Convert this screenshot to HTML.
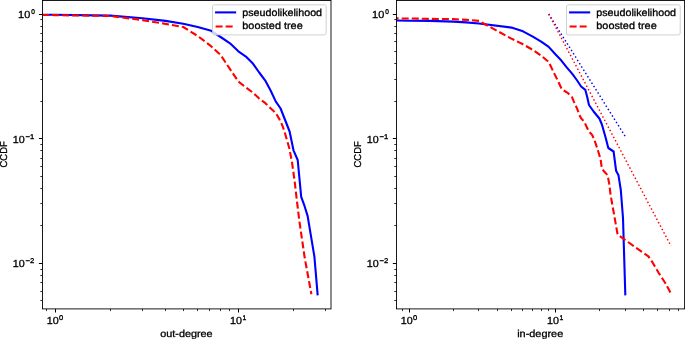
<!DOCTYPE html><html><head><meta charset="utf-8"><style>html,body{margin:0;padding:0;background:#fff;width:685px;height:339px;overflow:hidden}</style></head><body><svg width="685" height="339" viewBox="0 0 685 339" style="display:block;will-change:transform;text-rendering:geometricPrecision">
<rect width="685" height="339" fill="#fff"/>
<defs>
<clipPath id="cL"><rect x="42.5" y="0.45" width="288.50" height="308.45"/></clipPath>
<clipPath id="cR"><rect x="396.45" y="0.45" width="288.15" height="308.45"/></clipPath>
</defs>
<g clip-path="url(#cL)" fill="none" stroke-linejoin="round">
<polyline points="20.00,14.70 42.40,14.70 55.20,14.80 110.30,15.60 142.60,18.30 165.50,20.90 183.20,23.70 197.70,27.00 211.20,30.80 220.60,37.00 230.00,43.30 238.35,51.30 245.90,56.60 252.90,63.60 259.20,72.50 265.10,80.30 270.60,90.50 275.70,101.40 280.60,108.50 289.60,131.50 293.50,150.30 297.70,160.00 301.20,196.90 304.60,206.20 307.60,215.90 314.40,256.60 317.60,294.30" stroke="#0000ff" stroke-width="2.1" stroke-linecap="square"/>
<polyline points="20.00,15.00 42.40,15.00 55.20,15.10 110.30,16.00 142.60,20.10 165.50,23.90 183.20,27.00 197.70,36.00 210.00,45.30 220.60,55.00 230.00,69.10 238.35,81.60 245.90,87.40 252.90,92.60 259.20,98.60 265.10,102.90 270.60,108.30 275.70,113.00 279.20,118.90 281.80,124.20 284.20,130.60 289.40,148.50 292.10,163.00 294.80,182.50 296.50,197.50 299.50,222.00 304.70,257.80 311.40,294.30" stroke="#ff0000" stroke-width="2.1" stroke-dasharray="7.0 3.05" stroke-dashoffset="-1.85"/>
</g>
<g clip-path="url(#cR)" fill="none" stroke-linejoin="round">
<polyline points="548.70,14.00 625.50,136.90" stroke="#0000ff" stroke-width="1.455" stroke-dasharray="1.455 2.4"/>
<polyline points="548.70,14.00 671.00,246.00" stroke="#ff0000" stroke-width="1.455" stroke-dasharray="1.455 2.4"/>
<polyline points="380.00,20.50 396.40,20.50 409.20,20.70 430.00,20.90 453.20,21.60 466.00,22.40 479.00,23.50 511.40,27.60 523.00,31.30 532.80,36.70 541.20,41.60 548.70,46.90 555.40,54.30 560.40,59.40 566.30,66.90 572.10,73.60 576.80,80.00 581.10,86.50 585.30,89.80 587.20,96.90 589.00,105.00 593.60,111.50 599.40,118.50 601.90,124.50 605.40,136.80 608.30,148.00 613.60,151.50 616.10,170.80 618.50,175.30 620.80,190.00 623.00,218.00 625.30,294.30" stroke="#0000ff" stroke-width="2.1" stroke-linecap="square"/>
<polyline points="380.00,18.40 396.40,18.40 409.20,18.50 430.00,18.85 453.20,19.10 467.00,19.90 479.00,20.90 497.20,30.90 511.40,38.60 523.00,44.30 532.80,49.90 541.20,55.70 548.70,62.00 554.70,74.40 558.80,82.70 561.50,88.60 563.60,90.40 567.30,92.60 572.10,97.30 574.10,102.10 577.10,108.60 579.40,115.10 581.10,118.20 582.40,119.60 584.70,122.70 588.80,131.50 591.80,134.40 594.20,139.20 597.70,149.80 600.60,159.20 601.80,168.30 604.40,171.80 607.60,175.20 609.20,183.60 610.60,195.00 617.60,234.50 624.00,239.20 648.40,256.30 652.70,262.70 658.60,272.70 665.10,282.80 671.40,294.30" stroke="#ff0000" stroke-width="2.1" stroke-dasharray="7.0 3.05" stroke-dashoffset="-1.6"/>
</g>
<line x1="38.90" y1="14.50" x2="42.50" y2="14.50" stroke="#000" stroke-width="1.0"/><line x1="38.90" y1="138.50" x2="42.50" y2="138.50" stroke="#000" stroke-width="1.0"/><line x1="38.90" y1="263.50" x2="42.50" y2="263.50" stroke="#000" stroke-width="1.0"/><line x1="40.30" y1="101.50" x2="42.50" y2="101.50" stroke="#000" stroke-width="0.8"/><line x1="40.30" y1="79.50" x2="42.50" y2="79.50" stroke="#000" stroke-width="0.8"/><line x1="40.30" y1="63.50" x2="42.50" y2="63.50" stroke="#000" stroke-width="0.8"/><line x1="40.30" y1="51.50" x2="42.50" y2="51.50" stroke="#000" stroke-width="0.8"/><line x1="40.30" y1="41.50" x2="42.50" y2="41.50" stroke="#000" stroke-width="0.8"/><line x1="40.30" y1="33.50" x2="42.50" y2="33.50" stroke="#000" stroke-width="0.8"/><line x1="40.30" y1="26.50" x2="42.50" y2="26.50" stroke="#000" stroke-width="0.8"/><line x1="40.30" y1="19.50" x2="42.50" y2="19.50" stroke="#000" stroke-width="0.8"/><line x1="40.30" y1="225.50" x2="42.50" y2="225.50" stroke="#000" stroke-width="0.8"/><line x1="40.30" y1="203.50" x2="42.50" y2="203.50" stroke="#000" stroke-width="0.8"/><line x1="40.30" y1="188.50" x2="42.50" y2="188.50" stroke="#000" stroke-width="0.8"/><line x1="40.30" y1="176.50" x2="42.50" y2="176.50" stroke="#000" stroke-width="0.8"/><line x1="40.30" y1="166.50" x2="42.50" y2="166.50" stroke="#000" stroke-width="0.8"/><line x1="40.30" y1="158.50" x2="42.50" y2="158.50" stroke="#000" stroke-width="0.8"/><line x1="40.30" y1="150.50" x2="42.50" y2="150.50" stroke="#000" stroke-width="0.8"/><line x1="40.30" y1="144.50" x2="42.50" y2="144.50" stroke="#000" stroke-width="0.8"/><line x1="40.30" y1="300.50" x2="42.50" y2="300.50" stroke="#000" stroke-width="0.8"/><line x1="40.30" y1="291.50" x2="42.50" y2="291.50" stroke="#000" stroke-width="0.8"/><line x1="40.30" y1="282.50" x2="42.50" y2="282.50" stroke="#000" stroke-width="0.8"/><line x1="40.30" y1="275.50" x2="42.50" y2="275.50" stroke="#000" stroke-width="0.8"/><line x1="40.30" y1="269.50" x2="42.50" y2="269.50" stroke="#000" stroke-width="0.8"/><line x1="55.50" y1="308.90" x2="55.50" y2="312.50" stroke="#000" stroke-width="1.0"/><line x1="238.50" y1="308.90" x2="238.50" y2="312.50" stroke="#000" stroke-width="1.0"/><line x1="46.50" y1="308.90" x2="46.50" y2="311.10" stroke="#000" stroke-width="0.8"/><line x1="110.50" y1="308.90" x2="110.50" y2="311.10" stroke="#000" stroke-width="0.8"/><line x1="142.50" y1="308.90" x2="142.50" y2="311.10" stroke="#000" stroke-width="0.8"/><line x1="165.50" y1="308.90" x2="165.50" y2="311.10" stroke="#000" stroke-width="0.8"/><line x1="183.50" y1="308.90" x2="183.50" y2="311.10" stroke="#000" stroke-width="0.8"/><line x1="197.50" y1="308.90" x2="197.50" y2="311.10" stroke="#000" stroke-width="0.8"/><line x1="209.50" y1="308.90" x2="209.50" y2="311.10" stroke="#000" stroke-width="0.8"/><line x1="220.50" y1="308.90" x2="220.50" y2="311.10" stroke="#000" stroke-width="0.8"/><line x1="229.50" y1="308.90" x2="229.50" y2="311.10" stroke="#000" stroke-width="0.8"/><line x1="293.50" y1="308.90" x2="293.50" y2="311.10" stroke="#000" stroke-width="0.8"/><line x1="325.50" y1="308.90" x2="325.50" y2="311.10" stroke="#000" stroke-width="0.8"/><rect x="42.50" y="0.45" width="288.50" height="308.45" fill="none" stroke="#000" stroke-width="0.9"/>
<line x1="392.85" y1="14.50" x2="396.45" y2="14.50" stroke="#000" stroke-width="1.0"/><line x1="392.85" y1="138.50" x2="396.45" y2="138.50" stroke="#000" stroke-width="1.0"/><line x1="392.85" y1="263.50" x2="396.45" y2="263.50" stroke="#000" stroke-width="1.0"/><line x1="394.25" y1="101.50" x2="396.45" y2="101.50" stroke="#000" stroke-width="0.8"/><line x1="394.25" y1="79.50" x2="396.45" y2="79.50" stroke="#000" stroke-width="0.8"/><line x1="394.25" y1="63.50" x2="396.45" y2="63.50" stroke="#000" stroke-width="0.8"/><line x1="394.25" y1="51.50" x2="396.45" y2="51.50" stroke="#000" stroke-width="0.8"/><line x1="394.25" y1="41.50" x2="396.45" y2="41.50" stroke="#000" stroke-width="0.8"/><line x1="394.25" y1="33.50" x2="396.45" y2="33.50" stroke="#000" stroke-width="0.8"/><line x1="394.25" y1="26.50" x2="396.45" y2="26.50" stroke="#000" stroke-width="0.8"/><line x1="394.25" y1="19.50" x2="396.45" y2="19.50" stroke="#000" stroke-width="0.8"/><line x1="394.25" y1="225.50" x2="396.45" y2="225.50" stroke="#000" stroke-width="0.8"/><line x1="394.25" y1="203.50" x2="396.45" y2="203.50" stroke="#000" stroke-width="0.8"/><line x1="394.25" y1="188.50" x2="396.45" y2="188.50" stroke="#000" stroke-width="0.8"/><line x1="394.25" y1="176.50" x2="396.45" y2="176.50" stroke="#000" stroke-width="0.8"/><line x1="394.25" y1="166.50" x2="396.45" y2="166.50" stroke="#000" stroke-width="0.8"/><line x1="394.25" y1="158.50" x2="396.45" y2="158.50" stroke="#000" stroke-width="0.8"/><line x1="394.25" y1="150.50" x2="396.45" y2="150.50" stroke="#000" stroke-width="0.8"/><line x1="394.25" y1="144.50" x2="396.45" y2="144.50" stroke="#000" stroke-width="0.8"/><line x1="394.25" y1="300.50" x2="396.45" y2="300.50" stroke="#000" stroke-width="0.8"/><line x1="394.25" y1="291.50" x2="396.45" y2="291.50" stroke="#000" stroke-width="0.8"/><line x1="394.25" y1="282.50" x2="396.45" y2="282.50" stroke="#000" stroke-width="0.8"/><line x1="394.25" y1="275.50" x2="396.45" y2="275.50" stroke="#000" stroke-width="0.8"/><line x1="394.25" y1="269.50" x2="396.45" y2="269.50" stroke="#000" stroke-width="0.8"/><line x1="409.50" y1="308.90" x2="409.50" y2="312.50" stroke="#000" stroke-width="1.0"/><line x1="555.50" y1="308.90" x2="555.50" y2="312.50" stroke="#000" stroke-width="1.0"/><line x1="402.50" y1="308.90" x2="402.50" y2="311.10" stroke="#000" stroke-width="0.8"/><line x1="453.50" y1="308.90" x2="453.50" y2="311.10" stroke="#000" stroke-width="0.8"/><line x1="478.50" y1="308.90" x2="478.50" y2="311.10" stroke="#000" stroke-width="0.8"/><line x1="497.50" y1="308.90" x2="497.50" y2="311.10" stroke="#000" stroke-width="0.8"/><line x1="511.50" y1="308.90" x2="511.50" y2="311.10" stroke="#000" stroke-width="0.8"/><line x1="522.50" y1="308.90" x2="522.50" y2="311.10" stroke="#000" stroke-width="0.8"/><line x1="532.50" y1="308.90" x2="532.50" y2="311.10" stroke="#000" stroke-width="0.8"/><line x1="541.50" y1="308.90" x2="541.50" y2="311.10" stroke="#000" stroke-width="0.8"/><line x1="548.50" y1="308.90" x2="548.50" y2="311.10" stroke="#000" stroke-width="0.8"/><line x1="599.50" y1="308.90" x2="599.50" y2="311.10" stroke="#000" stroke-width="0.8"/><line x1="625.50" y1="308.90" x2="625.50" y2="311.10" stroke="#000" stroke-width="0.8"/><line x1="643.50" y1="308.90" x2="643.50" y2="311.10" stroke="#000" stroke-width="0.8"/><line x1="657.50" y1="308.90" x2="657.50" y2="311.10" stroke="#000" stroke-width="0.8"/><line x1="669.50" y1="308.90" x2="669.50" y2="311.10" stroke="#000" stroke-width="0.8"/><line x1="678.50" y1="308.90" x2="678.50" y2="311.10" stroke="#000" stroke-width="0.8"/><rect x="396.45" y="0.45" width="288.15" height="308.45" fill="none" stroke="#000" stroke-width="0.9"/>
<g font-family='"Liberation Sans", sans-serif' fill="#000" stroke="#000" stroke-width="0.3"><text x="18.07" y="17.50" font-size="10.2" textLength="12.16" lengthAdjust="spacingAndGlyphs">10</text><text x="31.15" y="13.70" font-size="6.8" textLength="3.61" lengthAdjust="spacingAndGlyphs">0</text><text x="12.68" y="142.80" font-size="10.2" textLength="11.94" lengthAdjust="spacingAndGlyphs">10</text><text x="25.42" y="138.70" font-size="6.8" textLength="8.75" lengthAdjust="spacingAndGlyphs">−1</text><text x="12.68" y="266.80" font-size="10.2" textLength="11.94" lengthAdjust="spacingAndGlyphs">10</text><text x="25.42" y="262.70" font-size="6.8" textLength="8.77" lengthAdjust="spacingAndGlyphs">−2</text><text x="372.07" y="17.50" font-size="10.2" textLength="12.16" lengthAdjust="spacingAndGlyphs">10</text><text x="385.15" y="13.70" font-size="6.8" textLength="3.61" lengthAdjust="spacingAndGlyphs">0</text><text x="366.68" y="142.80" font-size="10.2" textLength="11.94" lengthAdjust="spacingAndGlyphs">10</text><text x="379.42" y="138.70" font-size="6.8" textLength="8.75" lengthAdjust="spacingAndGlyphs">−1</text><text x="366.68" y="266.80" font-size="10.2" textLength="11.94" lengthAdjust="spacingAndGlyphs">10</text><text x="379.42" y="262.70" font-size="6.8" textLength="8.77" lengthAdjust="spacingAndGlyphs">−2</text><text x="46.78" y="323.80" font-size="10.2" textLength="11.94" lengthAdjust="spacingAndGlyphs">10</text><text x="59.11" y="320.00" font-size="6.8" textLength="4.19" lengthAdjust="spacingAndGlyphs">0</text><text x="229.93" y="323.80" font-size="10.2" textLength="11.94" lengthAdjust="spacingAndGlyphs">10</text><text x="242.44" y="320.00" font-size="6.8" textLength="3.74" lengthAdjust="spacingAndGlyphs">1</text><text x="400.78" y="323.80" font-size="10.2" textLength="11.94" lengthAdjust="spacingAndGlyphs">10</text><text x="413.11" y="320.00" font-size="6.8" textLength="4.19" lengthAdjust="spacingAndGlyphs">0</text><text x="546.98" y="323.80" font-size="10.2" textLength="11.94" lengthAdjust="spacingAndGlyphs">10</text><text x="559.49" y="320.00" font-size="6.8" textLength="3.74" lengthAdjust="spacingAndGlyphs">1</text><text x="160.25" y="337.20" font-size="10.0" textLength="52.34" lengthAdjust="spacingAndGlyphs">out-degree</text><text x="517.17" y="337.20" font-size="10.0" textLength="46.12" lengthAdjust="spacingAndGlyphs">in-degree</text><g transform="translate(6.90,0) rotate(-90)"><text x="-167.48" y="0.00" font-size="10" textLength="26.16" lengthAdjust="spacingAndGlyphs">CCDF</text></g><g transform="translate(360.90,0) rotate(-90)"><text x="-167.48" y="0.00" font-size="10" textLength="26.16" lengthAdjust="spacingAndGlyphs">CCDF</text></g></g>
<rect x="212.50" y="4.80" width="113.70" height="30.10" rx="1.9" fill="#fff" fill-opacity="0.8" stroke="#cccccc" stroke-width="0.9"/>
<line x1="216.10" y1="12.4" x2="235.10" y2="12.4" stroke="#0000ff" stroke-width="2.1" stroke-linecap="square"/>
<line x1="215.60" y1="26.5" x2="235.20" y2="26.5" stroke="#ff0000" stroke-width="2.1" stroke-dasharray="7.0 3.05"/>
<g font-family='"Liberation Sans", sans-serif' fill="#000" stroke="#000" stroke-width="0.3"><text x="242.31" y="16.00" font-size="10.2" textLength="79.78" lengthAdjust="spacingAndGlyphs">pseudolikelihood</text><text x="242.30" y="29.30" font-size="10.2" textLength="60.38" lengthAdjust="spacingAndGlyphs">boosted tree</text></g>
<rect x="566.50" y="4.80" width="113.70" height="30.10" rx="1.9" fill="#fff" fill-opacity="0.8" stroke="#cccccc" stroke-width="0.9"/>
<line x1="570.10" y1="12.4" x2="589.10" y2="12.4" stroke="#0000ff" stroke-width="2.1" stroke-linecap="square"/>
<line x1="569.60" y1="26.5" x2="589.20" y2="26.5" stroke="#ff0000" stroke-width="2.1" stroke-dasharray="7.0 3.05"/>
<g font-family='"Liberation Sans", sans-serif' fill="#000" stroke="#000" stroke-width="0.3"><text x="596.31" y="16.00" font-size="10.2" textLength="79.78" lengthAdjust="spacingAndGlyphs">pseudolikelihood</text><text x="596.30" y="29.30" font-size="10.2" textLength="60.38" lengthAdjust="spacingAndGlyphs">boosted tree</text></g>
</svg></body></html>
